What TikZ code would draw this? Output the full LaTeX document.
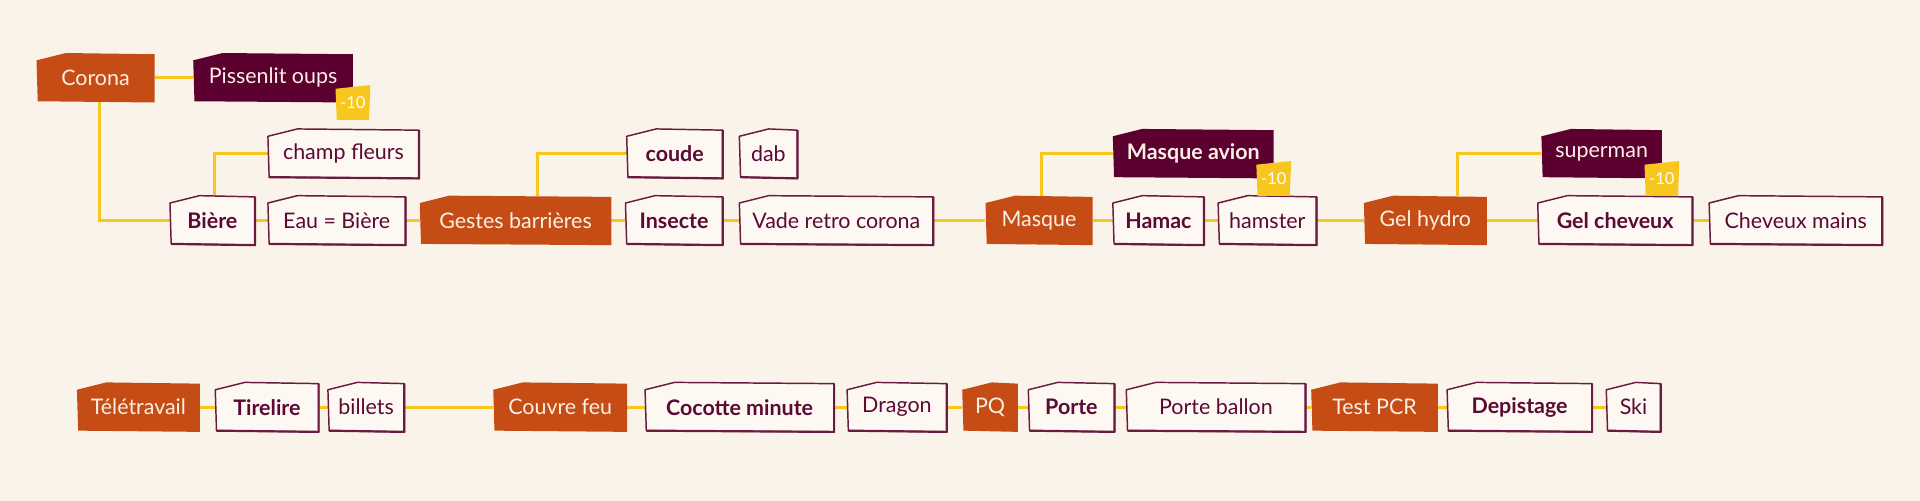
\documentclass[tikz,border=0pt]{standalone}
\usepackage{fontspec}
\setmainfont{Lato}
\usetikzlibrary{calc}
\definecolor{bgc}{HTML}{FAF3EA}
\definecolor{orng}{HTML}{C64C16}
\definecolor{drk}{HTML}{5C0030}
\definecolor{ptxt}{HTML}{5A0A35}
\definecolor{pbrd}{HTML}{6A1C40}
\definecolor{wfill}{HTML}{FDF8F1}
\definecolor{ylw}{HTML}{F8C71F}
\definecolor{ctxt}{HTML}{FBEFE4}
\pgfdeclarelayer{bg}
\pgfdeclarelayer{edges}
\pgfdeclarelayer{shapes}
\pgfsetlayers{bg,edges,shapes,main}
\tikzset{
  boxbase/.style={minimum height=40pt, inner sep=0pt, font=\fontsize{17.5}{20}\selectfont},
  wb/.style={boxbase, text=ptxt},
  wbb/.style={boxbase, text=ptxt, font=\fontsize{17.5}{20}\selectfont\bfseries},
  ob/.style={boxbase, text=ctxt},
  db/.style={boxbase, text=ctxt},
  dbb/.style={boxbase, text=ctxt, font=\fontsize{17.5}{20}\selectfont\bfseries},
  badge/.style={minimum width=28pt, minimum height=28pt, inner sep=0pt, text=white, font=\fontsize{13.5}{15}\selectfont},
  wshape/.style={fill=wfill, draw=pbrd, line width=1.2pt, line join=round},
  oshape/.style={fill=orng},
  dshape/.style={fill=drk},
  conn/.style={draw=ylw, line width=2.6pt}
}
\newcommand\boxshape[2]{%
  \begin{pgfonlayer}{shapes}
  \path[#2] ($(#1.north west)+(0,6)$) -- ($(#1.north west)+(24,0)$) -- ($(#1.north east)+(0,1)$) -- (#1.south east) -- ($(#1.south west)+(1,-1)$) -- cycle;
  \end{pgfonlayer}}
\newcommand\wboxshape[1]{%
  \boxshape{#1}{wshape}%
  \begin{pgfonlayer}{shapes}
  \draw[pbrd, line width=1.8pt, line join=round] ($(#1.north east)+(0,1)$) -- (#1.south east) -- ($(#1.south west)+(1,-1)$);
  \end{pgfonlayer}}
\newcommand\badgeshape[1]{%
  \begin{pgfonlayer}{shapes}
  \path[fill=ylw] ($(#1.north west)+(0,3)$) -- (#1.north east) -- ($(#1.south east)+(-1,0)$) -- ($(#1.south west)+(1,0)$) -- cycle;
  \end{pgfonlayer}}
\begin{document}
\begin{tikzpicture}[x=1pt,y=-1pt]
\begin{pgfonlayer}{bg}
\fill[bgc] (0,0) rectangle (1568,409);
\end{pgfonlayer}
\useasboundingbox (0,0) rectangle (1568,409);
% row 1
\node[ob, minimum width=96pt] (corona) at (78,63.5) {Corona};
\node[db, minimum width=130pt] (pis) at (223,63.5) {Pissenlit oups};
% row 2
\node[wb, minimum width=123pt] (champ) at (280.5,125.5) {champ fleurs};
\node[wbb, minimum width=78pt] (coude) at (551,125.5) {coude};
\node[wb, minimum width=47pt] (dab) at (627.5,125.5) {dab};
\node[dbb, minimum width=131pt] (mav) at (974.5,125.5) {Masque avion};
\node[db, minimum width=98pt] (sup) at (1308,125.5) {superman};
% row 3
\node[wbb, minimum width=69pt] (biere) at (173.5,180) {Bière};
\node[wb, minimum width=112pt] (eau) at (275,180) {Eau = Bière};
\node[ob, minimum width=156pt] (gestes) at (421,180) {Gestes barrières};
\node[wbb, minimum width=79pt] (insecte) at (550.5,180) {Insecte};
\node[wb, minimum width=158pt] (vade) at (683,180) {Vade retro corona};
\node[ob, minimum width=87pt] (masque) at (848.5,180) {Masque};
\node[wbb, minimum width=74pt] (hamac) at (946,180) {Hamac};
\node[wb, minimum width=80pt] (hamster) at (1035,180) {hamster};
\node[ob, minimum width=100pt] (gelhydro) at (1164,180) {Gel hydro};
\node[wbb, minimum width=126pt] (gelchev) at (1319,180) {Gel cheveux};
\node[wb, minimum width=141pt] (chevmains) at (1466.5,180) {Cheveux mains};
% row 4
\node[ob, minimum width=100pt] (tele) at (113,332.5) {Télétravail};
\node[wbb, minimum width=84pt] (tirelire) at (218,332.5) {Tirelire};
\node[wb, minimum width=62pt] (billets) at (299,332.5) {billets};
\node[ob, minimum width=109pt] (couvre) at (457.5,332.5) {Couvre feu};
\node[wbb, minimum width=154pt] (cocotte) at (604,332.5) {Cocotte minute};
\node[wb, minimum width=81pt] (dragon) at (732.5,332.5) {Dragon};
\node[ob, minimum width=45pt] (pq) at (808.5,332.5) {PQ};
\node[wbb, minimum width=70pt] (porte) at (875,332.5) {Porte};
\node[wb, minimum width=146pt] (porteballon) at (993,332.5) {Porte ballon};
\node[ob, minimum width=103pt] (testpcr) at (1122.5,332.5) {Test PCR};
\node[wbb, minimum width=118pt] (depistage) at (1241,332.5) {Depistage};
\node[wb, minimum width=44pt] (ski) at (1334,332.5) {Ski};
% badges
\node[badge] (b1) at ($(pis.south east)+(0,0)$) {-10};
\node[badge] (b2) at ($(mav.south east)+(0,0)$) {-10};
\node[badge] (b3) at ($(sup.south east)+(0,0)$) {-10};
% shapes
\boxshape{corona}{oshape}
\boxshape{pis}{dshape}
\wboxshape{champ}
\wboxshape{coude}
\wboxshape{dab}
\boxshape{mav}{dshape}
\boxshape{sup}{dshape}
\wboxshape{biere}
\wboxshape{eau}
\boxshape{gestes}{oshape}
\wboxshape{insecte}
\wboxshape{vade}
\boxshape{masque}{oshape}
\wboxshape{hamac}
\wboxshape{hamster}
\boxshape{gelhydro}{oshape}
\wboxshape{gelchev}
\wboxshape{chevmains}
\boxshape{tele}{oshape}
\wboxshape{tirelire}
\wboxshape{billets}
\boxshape{couvre}{oshape}
\wboxshape{cocotte}
\wboxshape{dragon}
\boxshape{pq}{oshape}
\wboxshape{porte}
\wboxshape{porteballon}
\boxshape{testpcr}{oshape}
\wboxshape{depistage}
\wboxshape{ski}
\badgeshape{b1}
\badgeshape{b2}
\badgeshape{b3}
% connectors
\begin{pgfonlayer}{edges}
\draw[conn] (corona.east) -- (pis.west);
\draw[conn] ([xshift=3pt]corona.south) |- (biere.west);
\draw[conn] ([xshift=2pt]biere.north) |- (champ.west);
\draw[conn] (biere.east) -- (eau.west);
\draw[conn] (eau.east) -- (gestes.west);
\draw[conn] ([xshift=18pt]gestes.north) |- (coude.west);
\draw[conn] (gestes.east) -- (insecte.west);
\draw[conn] (insecte.east) -- (vade.west);
\draw[conn] (vade.east) -- (masque.west);
\draw[conn] ([xshift=2pt]masque.north) |- (mav.west);
\draw[conn] (masque.east) -- (hamac.west);
\draw[conn] (hamac.east) -- (hamster.west);
\draw[conn] (hamster.east) -- (gelhydro.west);
\draw[conn] ([xshift=26pt]gelhydro.north) |- (sup.west);
\draw[conn] (gelhydro.east) -- (gelchev.west);
\draw[conn] (gelchev.east) -- (chevmains.west);
\draw[conn] (tele.east) -- (tirelire.west);
\draw[conn] (tirelire.east) -- (billets.west);
\draw[conn] (billets.east) -- (couvre.west);
\draw[conn] (couvre.east) -- (cocotte.west);
\draw[conn] (cocotte.east) -- (dragon.west);
\draw[conn] (dragon.east) -- (pq.west);
\draw[conn] (pq.east) -- (porte.west);
\draw[conn] (porte.east) -- (porteballon.west);
\draw[conn] (porteballon.east) -- (testpcr.west);
\draw[conn] (testpcr.east) -- (depistage.west);
\draw[conn] (depistage.east) -- (ski.west);
\end{pgfonlayer}
\end{tikzpicture}
\end{document}
